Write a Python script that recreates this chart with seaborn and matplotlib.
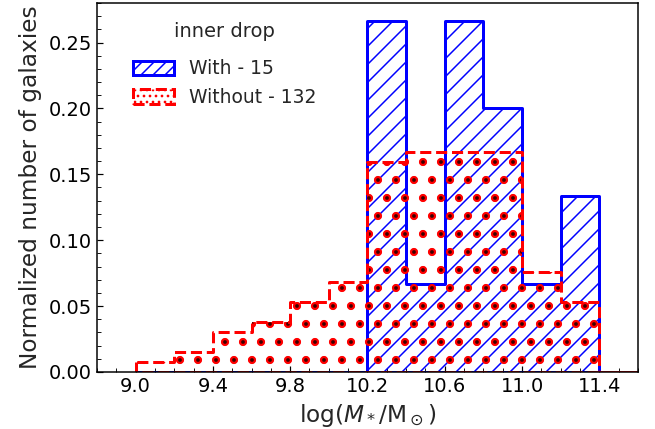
import numpy as np
import pandas as pd
import matplotlib
matplotlib.use("Agg")
import matplotlib.pyplot as plt
import seaborn as sns
from matplotlib.patches import Patch
from matplotlib.ticker import MultipleLocator, FormatStrFormatter

# Bin edges (log stellar mass) and galaxy counts per bin
bin_edges = [9.0, 9.2, 9.4, 9.6, 9.8, 10.0, 10.2, 10.4, 10.6, 10.8, 11.0, 11.2, 11.4, 11.6, 11.8]
with_counts = [0, 0, 0, 0, 0, 0, 4, 1, 4, 3, 1, 2, 0, 0]
without_counts = [1, 2, 4, 5, 7, 9, 21, 22, 22, 22, 10, 7, 0, 0]
n_with = 15
n_without = 132
labels = ["With - 15", "Without - 132"]
x_ticks = [9.0, 9.4, 9.8, 10.2, 10.6, 11.0, 11.4]

centers = [(a + b) / 2 for a, b in zip(bin_edges[:-1], bin_edges[1:])]
df_with = pd.DataFrame({"x": centers, "w": np.array(with_counts) / n_with})
df_without = pd.DataFrame({"x": centers, "w": np.array(without_counts) / n_without})

sns.set_style("white")
plt.rcParams["font.family"] = ["DejaVu Sans"]
plt.rcParams["hatch.linewidth"] = 1.0

DPI = 108
fig = plt.figure(figsize=(655 / DPI, 429 / DPI), dpi=DPI)
ax = fig.add_axes([0.148, 0.133, 0.826, 0.860])


def hist(df, **kw):
    n0 = len(ax.collections)
    sns.histplot(data=df, x="x", weights="w", bins=bin_edges, element="step",
                 fill=True, facecolor="none", ax=ax, **kw)
    return ax.collections[n0:]


def set_hlw(colls, lw):
    for c in colls:
        if hasattr(c, "set_hatch_linewidth"):
            c.set_hatch_linewidth(lw)


# "With" sample: blue, diagonal hatch, solid outline
c = hist(df_with, color="blue", edgecolor="blue", hatch="//", linewidth=2, linestyle="-")
set_hlw(c, 1.0)
# "Without" sample: red dots with dark centres, dashed outline
c = hist(df_without, color="red", edgecolor="red", hatch=".", linewidth=0)
set_hlw(c, 3.0)
c = hist(df_without, color="#3a0000", edgecolor="#3a0000", hatch=".", linewidth=0)
set_hlw(c, 0.1)
c = hist(df_without, color="red", edgecolor="red", linewidth=2, linestyle="--")

ax.set_xlim(8.8, 11.6)
ax.set_ylim(0, 0.28)
ax.set_xticks(x_ticks)
ax.set_xticklabels([f"{v:.1f}" for v in x_ticks])
ax.xaxis.set_minor_locator(MultipleLocator(0.1))
ax.yaxis.set_major_locator(MultipleLocator(0.05))
ax.yaxis.set_minor_locator(MultipleLocator(0.01))
ax.yaxis.set_major_formatter(FormatStrFormatter("%.2f"))
ax.tick_params(which="both", direction="in", bottom=True, left=True, top=False,
               right=False, labelsize=13, colors="black")
ax.tick_params(which="major", length=4, width=0.8)
ax.tick_params(which="minor", length=2.5, width=0.6)
for s in ax.spines.values():
    s.set_color("black")
    s.set_linewidth(1.0)

ax.set_xlabel(r"log($M_*$/M$_\odot$)", fontsize=15.5)
ax.set_ylabel("Normalized number of galaxies", fontsize=15.5)

handles = [
    Patch(facecolor="none", edgecolor="blue", hatch="///", linewidth=2, linestyle="-"),
    Patch(facecolor="none", edgecolor="red", hatch="...", linewidth=2, linestyle="--"),
]
leg = ax.legend(handles=handles, labels=labels, title="inner drop", fontsize=12.5,
                title_fontsize=13, frameon=False, loc="upper left",
                bbox_to_anchor=(0.035, 0.995), handlelength=2.2, handleheight=0.8,
                labelspacing=0.5, handletextpad=0.8)
leg._legend_box.sep = 12.5

fig.savefig("out.png", dpi=DPI)
